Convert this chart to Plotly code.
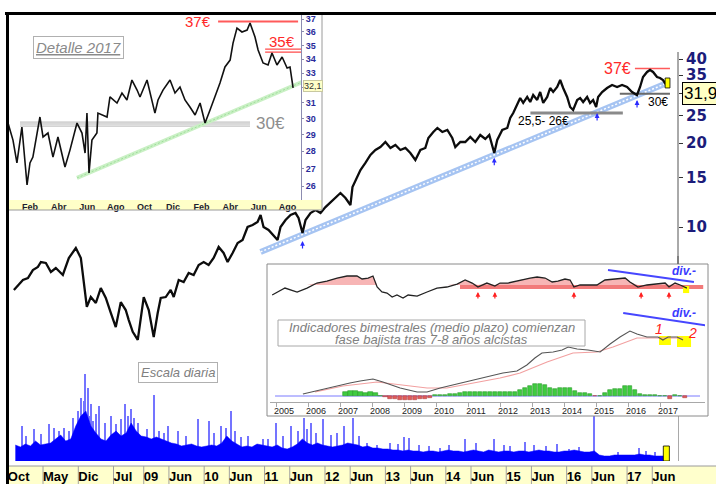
import numpy as np
import plotly.graph_objects as go

W, H = 716, 484
def fx(p): return p / W
def fy(p): return 1 - p / H

FONT = "Liberation Sans, Arial, sans-serif"

# ---------------- main daily chart (decimal years, price in EUR) ----------------
main_years = [2006.851, 2006.934, 2007.000, 2007.083, 2007.165, 2007.248, 2007.298, 2007.380, 2007.463, 2007.545,
              2007.661, 2007.760, 2007.876, 2007.959, 2008.008, 2008.058, 2008.124, 2008.207, 2008.289, 2008.372,
              2008.455, 2008.537, 2008.620, 2008.702, 2008.752, 2008.818, 2008.901, 2008.950, 2009.000, 2009.083,
              2009.165, 2009.231, 2009.281, 2009.364, 2009.446, 2009.496, 2009.579, 2009.661, 2009.744, 2009.826,
              2009.909, 2009.992, 2010.074, 2010.157, 2010.240, 2010.322, 2010.388, 2010.471, 2010.554, 2010.636,
              2010.719, 2010.802, 2010.884, 2010.934, 2010.983, 2011.066, 2011.149, 2011.215, 2011.264, 2011.347,
              2011.430, 2011.512, 2011.562, 2011.628, 2011.678, 2011.760, 2011.843, 2011.926, 2012.008, 2012.091,
              2012.174, 2012.256, 2012.339, 2012.421, 2012.455, 2012.504, 2012.587, 2012.669, 2012.752, 2012.835,
              2012.917, 2013.000, 2013.083, 2013.165, 2013.248, 2013.331, 2013.413, 2013.496, 2013.579, 2013.661,
              2013.711, 2013.793, 2013.860, 2013.942, 2014.025, 2014.107, 2014.157, 2014.240, 2014.322, 2014.405,
              2014.488, 2014.570, 2014.653, 2014.719, 2014.802, 2014.851, 2014.934, 2015.017, 2015.066, 2015.116,
              2015.182, 2015.231, 2015.281, 2015.347, 2015.397, 2015.446, 2015.512, 2015.562, 2015.612, 2015.678,
              2015.727, 2015.777, 2015.843, 2015.893, 2015.942, 2016.008, 2016.058, 2016.107, 2016.174, 2016.223,
              2016.273, 2016.339, 2016.388, 2016.438, 2016.488, 2016.521, 2016.587, 2016.669, 2016.752, 2016.835,
              2016.917, 2017.000, 2017.083, 2017.165, 2017.215, 2017.264, 2017.331, 2017.380, 2017.430, 2017.496,
              2017.545, 2017.595, 2017.661]
main_prices = [5.95, 6.20, 6.46, 6.56, 7.01, 7.19, 7.49, 7.43, 6.90, 7.13,
               6.73, 7.74, 8.41, 7.74, 6.46, 5.17, 5.61, 5.34, 6.04, 5.57,
               4.92, 4.38, 5.38, 5.04, 4.64, 4.21, 3.94, 4.64, 5.61, 5.04,
               4.03, 4.92, 5.57, 5.61, 5.95, 5.61, 6.46, 6.35, 6.84, 6.73,
               7.31, 7.49, 7.31, 7.74, 8.48, 8.07, 7.49, 8.07, 8.76, 8.98,
               10.0, 10.17, 10.42, 11.04, 10.0, 9.76, 9.36, 8.98, 10.0, 10.59,
               11.04, 11.22, 10.77, 9.52, 10.59, 11.22, 11.50, 11.22, 11.79, 12.29,
               12.70, 13.24, 12.70, 11.99, 13.91, 14.74, 16.01, 16.96, 18.12, 18.88,
               19.35, 20.17, 19.20, 19.68, 18.88, 19.20, 18.42, 17.39, 18.88, 19.20,
               20.84, 21.90, 22.64, 21.90, 22.27, 20.84, 19.35, 20.17, 20.17, 21.02,
               20.17, 21.37, 20.68, 21.37, 18.42, 20.50, 22.27, 22.64, 24.60, 25.62,
               27.37, 29.00, 27.83, 29.24, 28.05, 29.72, 28.53, 30.47, 27.83, 29.24,
               31.49, 30.47, 31.75, 33.64, 31.49, 29.24, 26.92, 26.27, 28.53, 29.00,
               28.05, 29.24, 27.83, 28.53, 26.92, 29.24, 30.47, 31.49, 32.28, 31.75,
               32.28, 31.75, 30.47, 29.72, 31.75, 34.48, 35.94, 36.54, 35.94, 34.48,
               34.20, 33.64, 32.01]
last_price = 31.9
last_label_pos = 30.1   # where the last-price tag sits on the axis

main_tick_vals = [2006.75, 2007.333, 2007.917, 2008.5, 2009.0, 2009.417, 2010.0, 2010.417, 2011.0, 2011.417,
                  2012.0, 2012.417, 2013.0, 2013.417, 2014.0, 2014.417, 2015.0, 2015.417, 2016.0, 2016.417,
                  2017.0, 2017.417]
main_tick_text = ["Oct", "May", "Dic", "Jul", "09", "Jun", "10", "Jun", "11", "Jun",
                  "12", "Jun", "13", "Jun", "14", "Jun", "15", "Jun", "16", "Jun", "17", "Jun"]
price_ticks = [10, 15, 20, 25, 30, 35, 40]

# support / resistance / trend (main)
trend_main_x = [2010.934, 2017.661]
trend_main_y = [8.14, 32.8]
res37_x = [2017.13, 2017.71]; res37 = 37
sup30_x = [2016.88, 2017.71]; sup30 = 30
sup26_x = [2015.40, 2016.93]; sup26 = 25.6
arrow_main_x = [2011.628, 2014.802, 2016.504, 2017.165]
arrow_main_y = [8.91, 17.7, 25.6, 28.5]

# daily volume (monthly bulk level + individual spikes)
vol_start = 2006.875
vol_bulk = [16, 14,
            17, 15, 20, 16, 17, 18, 22, 26, 20, 22, 35, 45,
            50, 35, 28, 22, 20, 26, 30, 25, 28, 38, 30, 25,
            24, 22, 24, 22, 20, 18, 17, 15, 16, 17, 15, 14,
            15, 16, 15, 18, 25, 20, 17, 14, 15, 14, 17, 16,
            15, 14, 16, 13, 12, 14, 17, 22, 18, 16, 18, 16,
            15, 14, 15, 16, 18, 17, 16, 14, 15, 13, 13, 12,
            12, 11, 11, 10, 11, 10, 10, 9, 10, 10, 9, 10,
            11, 10, 10, 9, 10, 11, 10, 9, 11, 10, 9, 10,
            10, 9, 10, 10, 9, 10, 11, 10, 10, 9, 9, 10,
            10, 11, 10, 9, 9, 10, 6, 5, 5, 6, 6, 6,
            6, 6, 7, 6, 6, 5, 5, 5]
spike_years = [2006.98, 2007.18, 2007.43, 2007.51, 2007.68, 2007.82, 2007.96, 2008.02, 2008.07, 2008.12,
               2008.21, 2008.26, 2008.45, 2008.54, 2008.69, 2008.79, 2008.83, 2009.17, 2009.40, 2009.56,
               2009.89, 2010.07, 2010.27, 2010.44, 2010.72, 2010.97, 2011.18, 2011.43, 2011.64, 2011.76,
               2011.96, 2012.31, 2012.45, 2012.69, 2013.07, 2013.31, 2013.38, 2013.71, 2013.89, 2014.31,
               2014.79, 2015.05, 2015.30, 2015.83, 2016.04, 2016.44, 2017.20, 2017.31,
               2007.05, 2007.30, 2007.60, 2007.75, 2007.90, 2008.00, 2008.10, 2008.16, 2008.35, 2008.62,
               2008.74, 2008.90, 2009.05, 2009.25, 2009.33, 2009.70, 2010.15, 2010.35, 2010.50, 2010.60,
               2011.05, 2011.30, 2011.55, 2011.70, 2011.85, 2012.10, 2012.20, 2012.55, 2012.85, 2013.20,
               2013.55, 2014.05, 2014.50, 2014.95, 2015.45, 2015.65, 2016.20, 2016.85, 2017.45]
spike_vals = [35, 32, 37, 33, 33, 43, 63, 87, 73, 57,
              47, 55, 45, 37, 57, 52, 43, 66, 35, 30,
              42, 40, 35, 50, 25, 22, 38, 35, 43, 38,
              42, 35, 43, 18, 18, 24, 23, 15, 13, 22,
              22, 15, 19, 17, 12, 60, 13, 10,
              25, 27, 30, 30, 50, 60, 45, 40, 38, 42,
              45, 38, 32, 30, 28, 25, 28, 33, 30, 24,
              22, 25, 30, 32, 28, 26, 28, 25, 16, 17,
              16, 16, 18, 16, 16, 15, 14, 9, 9]
last_vol = 15

# ---------------- "Detalle 2017" inset ----------------
det_years = [2015.997, 2016.026, 2016.049, 2016.078, 2016.108, 2016.125, 2016.142, 2016.166, 2016.183, 2016.201,
             2016.230, 2016.259, 2016.288, 2016.329, 2016.358, 2016.399, 2016.428, 2016.446, 2016.457, 2016.469,
             2016.486, 2016.515, 2016.521, 2016.574, 2016.591, 2016.632, 2016.661, 2016.690, 2016.719, 2016.749,
             2016.766, 2016.807, 2016.836, 2016.853, 2016.871, 2016.900, 2016.941, 2016.970, 2016.999, 2017.028,
             2017.057, 2017.087, 2017.116, 2017.145, 2017.174, 2017.203, 2017.232, 2017.261, 2017.291, 2017.308,
             2017.331, 2017.360, 2017.390, 2017.407, 2017.436, 2017.454, 2017.483, 2017.512, 2017.535, 2017.564,
             2017.594, 2017.623, 2017.640, 2017.658]
det_prices = [29.71, 28.66, 27.31, 29.46, 26.07, 27.31, 27.65, 29.09, 30.09, 28.85,
              29.09, 27.65, 28.85, 27.08, 28.06, 29.71, 29.09, 27.89, 30.34, 26.74,
              28.66, 29.09, 30.34, 30.09, 31.39, 30.99, 31.65, 31.19, 32.53, 31.85,
              31.39, 32.53, 30.99, 30.34, 31.19, 31.85, 32.53, 31.65, 32.05, 31.19,
              30.73, 30.22, 30.99, 29.71, 30.54, 31.39, 32.33, 33.44, 33.93, 35.17,
              36.30, 36.00, 36.15, 36.69, 35.62, 34.66, 33.72, 33.58, 34.44, 33.58,
              34.15, 33.37, 33.44, 31.99]
det_last = 32.1
det_tick_vals = [2016.125, 2016.292, 2016.458, 2016.625, 2016.792, 2016.958, 2017.125, 2017.292, 2017.458, 2017.625]
det_tick_text = ["Feb", "Abr", "Jun", "Ago", "Oct", "Dic", "Feb", "Abr", "Jun", "Ago"]
det_price_ticks = [26, 27, 28, 29, 30, 31, 32, 33, 34, 35, 36, 37]
det_res37_x = [2017.221, 2017.687]; det_res37 = 36.8
det_res35_x = [2017.495, 2017.78]; det_res35 = [34.72, 34.5]
det_sup30_x = [2016.067, 2017.407]; det_sup30 = [29.77, 29.65, 29.52]
det_trend_x = [2016.399, 2017.710]; det_trend_y = [26.46, 32.39]

# ---------------- bimonthly indicators inset ----------------
ind_years = list(range(2005, 2018))
osc_x = [2004.63, 2005.03, 2005.41, 2005.72, 2006.03, 2006.34, 2006.66, 2006.97, 2007.28, 2007.44,
         2007.63, 2007.78, 2007.91, 2008.06, 2008.22, 2008.38, 2008.53, 2008.72, 2008.88, 2009.16,
         2009.47, 2009.78, 2010.09, 2010.41, 2010.66, 2010.88, 2011.06, 2011.34, 2011.59, 2011.75,
         2012.0, 2012.38, 2012.69, 2012.91, 2013.16, 2013.38, 2013.56, 2013.78, 2013.94, 2014.06,
         2014.25, 2014.56, 2014.78, 2015.03, 2015.34, 2015.66, 2015.81, 2016.06, 2016.34, 2016.66,
         2016.91, 2017.03, 2017.22, 2017.38, 2017.59]
osc_v = [50.9, 63.0, 56.1, 63.0, 71.7, 75.2, 80.4, 83.9, 83.9, 78.7,
         80.4, 83.9, 64.8, 56.1, 54.3, 47.4, 50.9, 45.6, 50.9, 49.1,
         56.1, 63.0, 64.8, 70.0, 77.0, 71.7, 64.8, 71.7, 66.5, 71.7,
         71.7, 77.0, 80.4, 82.2, 80.4, 73.5, 75.2, 78.7, 77.0, 64.8,
         68.3, 68.3, 68.3, 77.0, 78.7, 80.4, 73.5, 64.8, 68.3, 70.0,
         71.7, 64.8, 71.7, 68.3, 63.0]
osc_fill_level = 68.3
osc_levels = [70, 30]
osc_band = [61.5, 68.3]
osc_band_x = [2010.5, 2018.1]
osc_arrow_x = [2011.06, 2011.59, 2014.06, 2016.16, 2017.03]
osc_arrow_y = 56

macd_x = [2005.59, 2006.34, 2007.06, 2007.38, 2007.78, 2008.09, 2008.63, 2009.16, 2009.47, 2009.88,
          2010.28, 2010.72, 2011.03, 2011.44, 2011.84, 2012.28, 2012.59, 2012.84, 2013.06, 2013.41,
          2013.69, 2013.88, 2014.16, 2014.5, 2014.88, 2015.19, 2015.5, 2015.81, 2016.03, 2016.34,
          2016.69, 2016.84, 2017.0, 2017.28, 2017.47]
macd_v = [2, 8, 13, 15, 17, 14, 8, 4, 4, 8,
          11, 15, 17, 20, 23, 25, 31, 38, 43, 44,
          46, 49, 47, 46, 44, 52, 59, 65, 62, 59,
          59, 56, 59, 59, 56]
sig_x = [2005.97, 2006.84, 2007.91, 2008.63, 2009.47, 2010.09, 2010.91, 2011.75, 2012.38, 2013.22,
         2014.03, 2014.78, 2015.28, 2016.03, 2016.53, 2017.47]
sig_v = [4, 10, 14, 11, 8, 8, 13, 18, 23, 34, 43, 44, 49, 58, 58, 58]
hist_start, hist_step = 2006.92, 0.156
hist_vals = [4, 4.7, 4.7, 4, 3.5, 4, 2.7, 0.5, -1.3, -2.7,
             -3.3, -4, -4.3, -4.3, -4, -3.3, -2.7, -1.5, 0.7, 1,
             1.3, 2, 2.3, 3, 3.7, 4, 4, 3.7, 4, 4,
             3.7, 4, 3.7, 4.3, 4, 6, 7.7, 10, 11.7, 11.7,
             11, 8.3, 6.7, 7.7, 8.3, 7.7, 5, 3.3, 3.3, 1.7,
             -0.3, 0, 3.3, 6, 6.7, 7.3, 10, 10, 5.7, 2.3,
             1, 1, 1, 0.5, 0, -2.7, 0.7, 0, -2.3]
hist_x = [round(hist_start + i * hist_step, 3) for i in range(len(hist_vals))]
div_up_x = [2015.125, 2017.81]; div_up_y = [94.3, 73.5]
div_lo_x = [2015.6, 2018.3]; div_lo_y = [83, 70]
hl_box1 = ([2016.72, 2017.09], [51, 60])
hl_box2 = ([2017.28, 2017.72], [49, 60])
hl_box_osc = ([2017.47, 2017.66], [54.3, 66.5])

def rect(xs, ys):
    return [xs[0], xs[1], xs[1], xs[0], xs[0]], [ys[0], ys[0], ys[1], ys[1], ys[0]]

fig = go.Figure()

# ---- main price (x, y) ----
fig.add_trace(go.Scatter(x=trend_main_x, y=trend_main_y, mode="lines",
                         line=dict(color="#a6c4f2", width=6), xaxis="x", yaxis="y"))
fig.add_trace(go.Scatter(x=trend_main_x, y=trend_main_y, mode="lines",
                         line=dict(color="#ffffff", width=1.5, dash="2px,2px"), xaxis="x", yaxis="y"))
fig.add_trace(go.Scatter(x=sup26_x, y=[sup26, sup26], mode="lines",
                         line=dict(color="#8a8a8a", width=3), xaxis="x", yaxis="y"))
fig.add_trace(go.Scatter(x=sup30_x, y=[sup30, sup30], mode="lines",
                         line=dict(color="#6a6a6a", width=2), xaxis="x", yaxis="y"))
fig.add_trace(go.Scatter(x=res37_x, y=[res37, res37], mode="lines",
                         line=dict(color="#ff5a5a", width=1.6), xaxis="x", yaxis="y"))
fig.add_trace(go.Scatter(x=main_years, y=main_prices, mode="lines",
                         line=dict(color="#0c0c0c", width=2.3), xaxis="x", yaxis="y"))
rx, ry = rect([2017.63, 2017.71], [31.5, 34.2])
fig.add_trace(go.Scatter(x=rx, y=ry, mode="lines", fill="toself", fillcolor="#ffff00",
                         line=dict(color="black", width=0.8), xaxis="x", yaxis="y"))

# ---- volume (x, y2) ----
vol_x = [round(vol_start + i / 12, 4) for i in range(len(vol_bulk))]
fig.add_trace(go.Bar(x=spike_years, y=spike_vals, width=0.022, marker=dict(color="#7474ff", line=dict(width=0)),
                     xaxis="x", yaxis="y2"))
fig.add_trace(go.Scatter(x=vol_x, y=vol_bulk, mode="lines", fill="tozeroy", fillcolor="#0000ff",
                         line=dict(color="#0000ff", width=0.5), xaxis="x", yaxis="y2"))
vx, vy = rect([2017.60, 2017.70], [0, last_vol])
fig.add_trace(go.Scatter(x=vx, y=vy, mode="lines", fill="toself", fillcolor="#ffff00",
                         line=dict(color="black", width=0.8), xaxis="x", yaxis="y2"))

# ---- detalle background (x2, y3) ----
bx, by = rect([0, 1], [0, 1])
fig.add_trace(go.Scatter(x=bx, y=by, mode="lines", fill="toself", fillcolor="white",
                         line=dict(width=0), xaxis="x2", yaxis="y3"))
bx, by = rect([0, 1], [0, 10 / 197])
fig.add_trace(go.Scatter(x=bx, y=by, mode="lines", fill="toself", fillcolor="#ffffc8",
                         line=dict(width=0), xaxis="x2", yaxis="y3"))

# ---- detalle chart (x3, y4) ----
for lv in det_sup30:
    fig.add_trace(go.Scatter(x=det_sup30_x, y=[lv, lv], mode="lines",
                             line=dict(color="#b4b4b4", width=1), xaxis="x3", yaxis="y4"))
fig.add_trace(go.Scatter(x=det_trend_x, y=det_trend_y, mode="lines",
                         line=dict(color="#c9f0c4", width=4), xaxis="x3", yaxis="y4"))
fig.add_trace(go.Scatter(x=det_trend_x, y=det_trend_y, mode="lines",
                         line=dict(color="#93d88f", width=0.8, dash="2px,2px"), xaxis="x3", yaxis="y4"))
fig.add_trace(go.Scatter(x=det_res37_x, y=[det_res37, det_res37], mode="lines",
                         line=dict(color="#ff5a5a", width=2), xaxis="x3", yaxis="y4"))
for lv in det_res35:
    fig.add_trace(go.Scatter(x=det_res35_x, y=[lv, lv], mode="lines",
                             line=dict(color="#ff4a4a", width=1.2), xaxis="x3", yaxis="y4"))
fig.add_trace(go.Scatter(x=det_years, y=det_prices, mode="lines",
                         line=dict(color="#111111", width=1.6), xaxis="x3", yaxis="y4"))

# ---- indicator background (x4, y5) ----
bx, by = rect([0, 1], [0, 1])
fig.add_trace(go.Scatter(x=bx, y=by, mode="lines", fill="toself", fillcolor="white",
                         line=dict(width=0), xaxis="x4", yaxis="y5"))

# ---- oscillator (x5, y6) ----
hx, hy = rect(*hl_box_osc)
fig.add_trace(go.Scatter(x=hx, y=hy, mode="lines", fill="toself", fillcolor="#ffff00",
                         line=dict(width=0), xaxis="x5", yaxis="y6"))
fig.add_trace(go.Scatter(x=[osc_x[0], osc_x[-1]], y=[osc_fill_level, osc_fill_level], mode="lines",
                         line=dict(width=0, color="rgba(0,0,0,0)"), xaxis="x5", yaxis="y6"))
fig.add_trace(go.Scatter(x=osc_x, y=[max(v, osc_fill_level) for v in osc_v], mode="lines", fill="tonexty",
                         fillcolor="rgba(240,120,120,0.55)", line=dict(width=0, color="rgba(0,0,0,0)"),
                         xaxis="x5", yaxis="y6"))
fig.add_trace(go.Scatter(x=osc_x, y=osc_v, mode="lines", line=dict(color="#222222", width=1.3),
                         xaxis="x5", yaxis="y6"))
fig.add_trace(go.Scatter(x=div_up_x, y=div_up_y, mode="lines", line=dict(color="#4646ff", width=2),
                         xaxis="x5", yaxis="y6"))

# ---- MACD (x5, y7) ----
for box in (hl_box1, hl_box2):
    hx, hy = rect(*box)
    fig.add_trace(go.Scatter(x=hx, y=hy, mode="lines", fill="toself", fillcolor="#ffff00",
                             line=dict(width=0), xaxis="x5", yaxis="y7"))
fig.add_trace(go.Bar(x=hist_x, y=hist_vals, width=hist_step * 0.85,
                     marker=dict(color=["#3fcc3f" if v >= 0 else "#e05a5a" for v in hist_vals],
                                 line=dict(color=["#2a9a2a" if v >= 0 else "#b04040" for v in hist_vals], width=0.6)),
                     xaxis="x5", yaxis="y7"))
fig.add_trace(go.Scatter(x=sig_x, y=sig_v, mode="lines", line=dict(color="#f2a0a0", width=1.2),
                         xaxis="x5", yaxis="y7"))
fig.add_trace(go.Scatter(x=macd_x, y=macd_v, mode="lines", line=dict(color="#555555", width=1.1),
                         xaxis="x5", yaxis="y7"))
fig.add_trace(go.Scatter(x=div_lo_x, y=div_lo_y, mode="lines", line=dict(color="#4646ff", width=2),
                         xaxis="x5", yaxis="y7"))

# ---------------- layout ----------------
tick_b = dict(family=FONT, size=13, color="black", weight="bold")
fig.update_layout(
    width=W, height=H, margin=dict(l=0, r=0, t=0, b=0),
    paper_bgcolor="white", plot_bgcolor="white", showlegend=False, bargap=0,
    xaxis=dict(domain=[fx(7.5), fx(678)], range=[2006.745, 2017.843], tickmode="array",
               tickvals=main_tick_vals, ticktext=main_tick_text, ticklabelposition="outside right",
               tickangle=0, ticks="", showgrid=False, zeroline=False, showline=False, tickfont=tick_b,
               ticklabelstandoff=6, anchor="y"),
    yaxis=dict(type="log", domain=[fy(461), fy(14)], range=[0.1613, 1.7634], side="right",
               tickmode="array", tickvals=price_ticks, ticktext=[str(v) for v in price_ticks],
               ticks="outside", ticklen=4, tickcolor="#333333", showgrid=False, zeroline=False,
               showline=False, tickfont=dict(family="DejaVu Sans", size=15, color="#1c1c7a", weight="bold"),
               anchor="x"),
    yaxis2=dict(domain=[fy(461), fy(361)], range=[0, 100], visible=False, anchor="x"),
    xaxis2=dict(domain=[fx(8), fx(322)], range=[0, 1], visible=False, anchor="y3"),
    yaxis3=dict(domain=[fy(210), fy(13)], range=[0, 1], visible=False, anchor="x2"),
    xaxis3=dict(domain=[fx(8), fx(301)], range=[2015.997, 2017.704], tickmode="array",
                tickvals=det_tick_vals, ticktext=det_tick_text, ticks="", showgrid=False, zeroline=False,
                showline=False, tickangle=0,
                tickfont=dict(family=FONT, size=9, color="#1e1e2e", weight="bold"),
                ticklabelstandoff=0, anchor="y4"),
    yaxis4=dict(type="log", domain=[fy(200), fy(13)], range=[1.4024, 1.5737], side="right",
                tickmode="array", tickvals=det_price_ticks, ticktext=[str(v) for v in det_price_ticks],
                ticks="outside", ticklen=2, tickcolor="#8c8cb0", showline=True, linecolor="#8c8cb0",
                showgrid=False, zeroline=False,
                tickfont=dict(family=FONT, size=9, color="#2a2a9a", weight="bold"), anchor="x3"),
    xaxis4=dict(domain=[fx(267), fx(708)], range=[0, 1], visible=False, anchor="y5"),
    yaxis5=dict(domain=[fy(416), fy(264)], range=[0, 1], visible=False, anchor="x4"),
    xaxis5=dict(domain=[fx(270), fx(705)], range=[2004.5625, 2018.156], tickmode="array",
                tickvals=ind_years, ticktext=[str(y) for y in ind_years], ticks="", showgrid=False,
                zeroline=False, showline=True, linecolor="#a8a8a8", tickangle=0,
                minor=dict(tickmode="array", tickvals=[y - 0.22 for y in ind_years], ticks="outside",
                           ticklen=4, tickcolor="#a8a8a8"),
                tickfont=dict(family=FONT, size=9, color="#222222"), anchor="y7"),
    yaxis6=dict(domain=[fy(308), fy(264)], range=[28.3, 104.8], visible=False, anchor="x5"),
    yaxis7=dict(domain=[fy(402), fy(308)], range=[-6, 88], visible=False, anchor="x5"),
)

shapes = []
# bottom date band of the main chart
shapes.append(dict(type="rect", xref="paper", yref="paper", x0=fx(9), x1=1, y0=0, y1=fy(466),
                   fillcolor="#ffffcc", line=dict(width=0), layer="below"))
shapes.append(dict(type="line", xref="paper", yref="paper", x0=fx(9), x1=1, y0=fy(466), y1=fy(466),
                   line=dict(color="#9a9a9a", width=1), layer="below"))
for tv in main_tick_vals:
    shapes.append(dict(type="line", xref="x", yref="paper", x0=tv, x1=tv, y0=0, y1=fy(466),
                       line=dict(color="#a0a0a0", width=1), layer="below"))
# main right axis line
shapes.append(dict(type="line", xref="paper", yref="paper", x0=fx(678), x1=fx(678), y0=fy(461), y1=fy(52),
                   line=dict(color="#555555", width=1), layer="below"))
# oscillator levels & band
for lv in osc_levels:
    shapes.append(dict(type="line", xref="x5 domain", yref="y6", x0=0, x1=1, y0=lv, y1=lv,
                       line=dict(color="#c8c8d8", width=1, dash="dot"), layer="below"))
shapes.append(dict(type="rect", xref="x5", yref="y6", x0=osc_band_x[0], x1=osc_band_x[1],
                   y0=osc_band[0], y1=osc_band[1], fillcolor="#f27a7a", line=dict(width=0), layer="below"))
shapes.append(dict(type="line", xref="x5", yref="y7", x0=2004.72, x1=2018.0, y0=0, y1=0,
                   line=dict(color="#7a7aff", width=1), layer="below"))
# inset borders and frame
shapes.append(dict(type="line", xref="paper", yref="paper", x0=fx(322), x1=fx(322), y0=fy(210), y1=fy(13),
                   line=dict(color="#9a9a9a", width=1)))
shapes.append(dict(type="line", xref="paper", yref="paper", x0=fx(8), x1=fx(322), y0=fy(210), y1=fy(210),
                   line=dict(color="#9a9a9a", width=1)))
shapes.append(dict(type="rect", xref="paper", yref="paper", x0=fx(267), x1=fx(708), y0=fy(416), y1=fy(264),
                   line=dict(color="#8a8a8a", width=1)))
shapes.append(dict(type="line", xref="paper", yref="paper", x0=fx(678), x1=fx(678), y0=fy(264), y1=fy(256),
                   line=dict(color="#555555", width=1)))
shapes.append(dict(type="rect", xref="paper", yref="paper", x0=fx(278), x1=fx(585), y0=fy(346), y1=fy(320),
                   fillcolor="white", line=dict(color="#a8a8a8", width=1)))
shapes.append(dict(type="line", xref="paper", yref="paper", x0=fx(5), x1=1, y0=fy(13.5), y1=fy(13.5),
                   line=dict(color="black", width=3)))
shapes.append(dict(type="line", xref="paper", yref="paper", x0=fx(7.5), x1=fx(7.5), y0=0, y1=fy(12),
                   line=dict(color="black", width=3)))
fig.update_layout(shapes=shapes)

ann = []
def txt(text, x, y, xref="paper", yref="paper", size=13, color="black", xanchor="center", **kw):
    d = dict(text=text, x=x, y=y, xref=xref, yref=yref, showarrow=False, xanchor=xanchor, yanchor="middle",
             font=dict(family=FONT, size=size, color=color))
    d.update(kw)
    ann.append(d)

# main chart labels
txt("37€", 2017.10, np.log10(res37), xref="x", yref="y", size=16, color="#ff2a2a", xanchor="right")
txt("30€", 2017.51, np.log10(28.05), xref="x", yref="y", size=12)
txt("25,5- 26€", 2015.61, np.log10(24.0), xref="x", yref="y", size=12)
txt(f"{last_price:.1f}".replace(".", ","), fx(682), np.log10(last_label_pos), yref="y", size=17, xanchor="left",
    bgcolor="#ffffc4", bordercolor="black", borderwidth=1, borderpad=1)
for ax_, ay_ in zip(arrow_main_x, arrow_main_y):
    ann.append(dict(x=ax_, y=np.log10(ay_), xref="x", yref="y", text="", showarrow=True, ax=0, ay=9,
                    arrowhead=2, arrowsize=0.8, arrowwidth=1.2, arrowcolor="#2a2aff"))
txt("<i>Escala diaria</i>", fx(177.5), fy(372), size=13, color="#808080",
    bgcolor="white", bordercolor="#b0b0b0", borderwidth=1, borderpad=2)

# detalle labels
ann.append(dict(text="<i>Detalle 2017</i>", x=fx(78), y=fy(47.5), xref="paper", yref="paper", showarrow=False,
                xanchor="center", yanchor="middle",
                font=dict(family=FONT, size=15, color="#8a8a8a", lineposition="under"),
                bgcolor="white", bordercolor="#b0b0b0", borderwidth=1, borderpad=2))
txt("37€", 2017.191, np.log10(det_res37), xref="x3", yref="y4", size=15, color="#ff2a2a", xanchor="right")
txt("35€", 2017.593, np.log10(35.3), xref="x3", yref="y4", size=15, color="#ff2a2a")
txt("30€", fx(270), np.log10(29.71), yref="y4", size=17, color="#8e8e8e")
txt(f"{det_last:.1f}".replace(".", ","), fx(303), np.log10(det_last), yref="y4", size=9, xanchor="left",
    color="#333333", bgcolor="#ffffc8", bordercolor="#c8c8a0", borderwidth=1, borderpad=0)

# indicator labels
txt("<i>Indicadores bimestrales (medio plazo) comienzan</i>", fx(431.5), fy(327), size=13, color="#808080")
txt("<i>fase bajista tras 7-8 años alcistas</i>", fx(431.5), fy(339.5), size=13, color="#808080")
txt("<b><i>div.-</i></b>", 2017.5, 92.6, xref="x5", yref="y6", size=12, color="#3a3aff")
txt("<b><i>div.-</i></b>", 2017.5, 83, xref="x5", yref="y7", size=12, color="#3a3aff")
txt("<i>1</i>", 2016.72, 67, xref="x5", yref="y7", size=14, color="#ff2020")
txt("<i>2</i>", 2017.75, 63, xref="x5", yref="y7", size=14, color="#ff2020")
for ax_ in osc_arrow_x:
    ann.append(dict(x=ax_, y=osc_arrow_y, xref="x5", yref="y6", text="", showarrow=True, ax=0, ay=8,
                    arrowhead=2, arrowsize=0.8, arrowwidth=1.2, arrowcolor="#ff2020"))
fig.update_layout(annotations=ann)

fig.write_html(
    "out.html",
    config={"displayModeBar": False},
    post_script=("document.documentElement.style.margin='0px';"
                 "document.documentElement.style.overflow='hidden';"
                 "document.body.style.margin='0px';document.body.style.overflow='hidden';"
                 "document.body.style.height='484px';"
                 "var gd=document.getElementById('{plot_id}');"
                 "gd.parentElement.style.position='fixed';gd.parentElement.style.left='0px';"
                 "gd.parentElement.style.top='0px';"),
)
